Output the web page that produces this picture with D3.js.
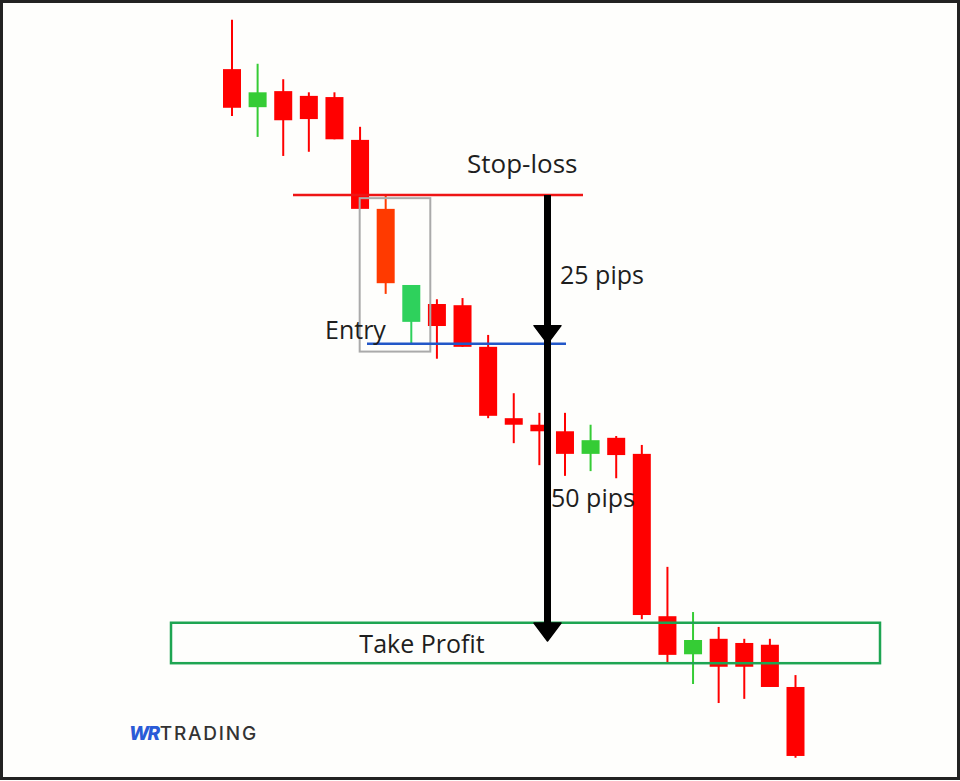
<!DOCTYPE html>
<html>
<head>
<meta charset="utf-8">
<script src="https://cdn.jsdelivr.net/npm/d3@7"></script>
<style>
  html, body { margin: 0; padding: 0; background: #fefefc; }
  svg { display: block; }
</style>
</head>
<body>
<svg id="chart" width="960" height="781"></svg>
<script>
// ---- data ----
const categories = d3.range(1, 24).map(d => "C" + d);
const opens  = [1.25460,1.25396,1.25423,1.25415,1.25413,1.25341,1.25225,1.25035,1.25065,1.25063,1.24993,1.24873,1.24862,1.24851,1.24813,1.24840,1.24813,1.24540,1.24476,1.24502,1.24495,1.24492,1.24421];
const closes = [1.25395,1.25421,1.25374,1.25376,1.25342,1.25225,1.25100,1.25097,1.25028,1.24993,1.24877,1.24862,1.24851,1.24813,1.24836,1.24811,1.24542,1.24475,1.24500,1.24455,1.24455,1.24421,1.24305];
const highs  = [1.25543,1.25469,1.25443,1.25421,1.25421,1.25363,1.25247,1.25097,1.25073,1.25075,1.25013,1.24915,1.24882,1.24882,1.24862,1.24843,1.24828,1.24623,1.24547,1.24522,1.24502,1.24502,1.24441];
const lows   = [1.25381,1.25346,1.25314,1.25321,1.25342,1.25225,1.25082,1.24999,1.24973,1.24993,1.24873,1.24831,1.24794,1.24776,1.24784,1.24772,1.24535,1.24461,1.24426,1.24394,1.24401,1.24421,1.24302];
const stopLoss = 1.25250;
const entry = 1.25000;
const takeProfit = 1.24500;
const takeProfitZone = [1.24461, 1.24529];
const setupCandles = [6, 7];           // candles inside the grey box
const labels = { stop: "Stop-loss", entry: "Entry", risk: "25 pips", reward: "50 pips", tp: "Take Profit" };

// ---- drawing ----
const svg = d3.select("#chart");
const W = 960, H = 781;
const x = d3.scalePoint().domain(categories).range([232, 795.5]);
const y = d3.scaleLinear().domain([1.2450, 1.2525]).range([640, 194]);

const candles = categories.map((c, i) => ({ c, i, o: opens[i], h: highs[i], l: lows[i], cl: closes[i] }));
const bodyW = 18;
function colour(d) {
  const up = d.cl > d.o;
  if (setupCandles.includes(d.i)) return up ? "#2ed15c" : "#ff3a00";
  return up ? "#35cc35" : "#ff0000";
}

svg.append("rect").attr("width", W).attr("height", H).attr("fill", "#fefefc");

const g = svg.append("g");
// wicks
g.selectAll("line.wick").data(candles).join("line")
  .attr("x1", d => x(d.c)).attr("x2", d => x(d.c))
  .attr("y1", d => y(d.h)).attr("y2", d => y(d.l))
  .attr("stroke", colour).attr("stroke-width", 2);
// bodies
g.selectAll("rect.body").data(candles).join("rect")
  .attr("x", d => x(d.c) - bodyW / 2)
  .attr("width", bodyW)
  .attr("y", d => y(Math.max(d.o, d.cl)))
  .attr("height", d => Math.max(1.5, Math.abs(y(d.o) - y(d.cl))))
  .attr("fill", colour);

// grey setup box
const bx0 = x(categories[setupCandles[0]]) - 26, bx1 = x(categories[setupCandles[1]]) + 19;
svg.append("rect")
  .attr("x", bx0).attr("y", y(1.25243))
  .attr("width", bx1 - bx0).attr("height", y(1.24985) - y(1.25243))
  .attr("fill", "none").attr("stroke", "#aaaaaa").attr("stroke-width", 2);

// stop-loss line
svg.append("line")
  .attr("x1", 293).attr("x2", 583)
  .attr("y1", y(stopLoss) + 1).attr("y2", y(stopLoss) + 1)
  .attr("stroke", "#ee1515").attr("stroke-width", 2.5);
// entry line
svg.append("line")
  .attr("x1", 367).attr("x2", 566)
  .attr("y1", y(entry) + 1).attr("y2", y(entry) + 1)
  .attr("stroke", "#2257c8").attr("stroke-width", 2.5);

// take-profit zone
svg.append("rect")
  .attr("x", 171).attr("width", 709)
  .attr("y", y(takeProfitZone[1])).attr("height", y(takeProfitZone[0]) - y(takeProfitZone[1]))
  .attr("fill", "none").attr("stroke", "#1ea552").attr("stroke-width", 2.5);

// black arrow
const ax = 547.5;
svg.append("line")
  .attr("x1", ax).attr("x2", ax)
  .attr("y1", y(stopLoss) + 1).attr("y2", y(takeProfit) - 2)
  .attr("stroke", "#000").attr("stroke-width", 7);
[entry, takeProfit].forEach(p => {
  const ty = y(p) + 1;
  svg.append("path")
    .attr("d", `M${ax - 13.5},${ty - 18} L${ax + 13.5},${ty - 18} L${ax},${ty} Z`)
    .attr("fill", "#000").attr("stroke", "#000").attr("stroke-width", 1.5).attr("stroke-linejoin", "round");
});

// texts
const font = "'Open Sans', 'Noto Sans', sans-serif";
function label(t, xx, yy, anchor, size) {
  svg.append("text").text(t).attr("x", xx).attr("y", yy)
    .attr("text-anchor", anchor || "start")
    .attr("font-family", font).attr("font-size", size || 25)
    .attr("fill", "#1e1e1e");
}
label(labels.stop, 467, 173, "start", 26);
label(labels.risk, 560, 284);
label(labels.entry, 325, 339);
label(labels.reward, 551, 507);
label(labels.tp, 422, 653, "middle");

// logo
const logo = svg.append("text").attr("x", 129).attr("y", 740)
  .attr("font-family", "Inter, 'Noto Sans', sans-serif").attr("font-size", 19);
logo.append("tspan").text("WR").attr("fill", "#2a5bd7").attr("font-weight", 800).attr("letter-spacing", -1.5).attr("font-style", "italic");
logo.append("tspan").text("TRADING").attr("fill", "#333").attr("font-weight", 500).attr("letter-spacing", 1.8).attr("dx", 1);

// frame
svg.append("rect").attr("x", 1.5).attr("y", 1.5).attr("width", W - 3).attr("height", H - 4)
  .attr("fill", "none").attr("stroke", "#222").attr("stroke-width", 3);
</script>
</body>
</html>
